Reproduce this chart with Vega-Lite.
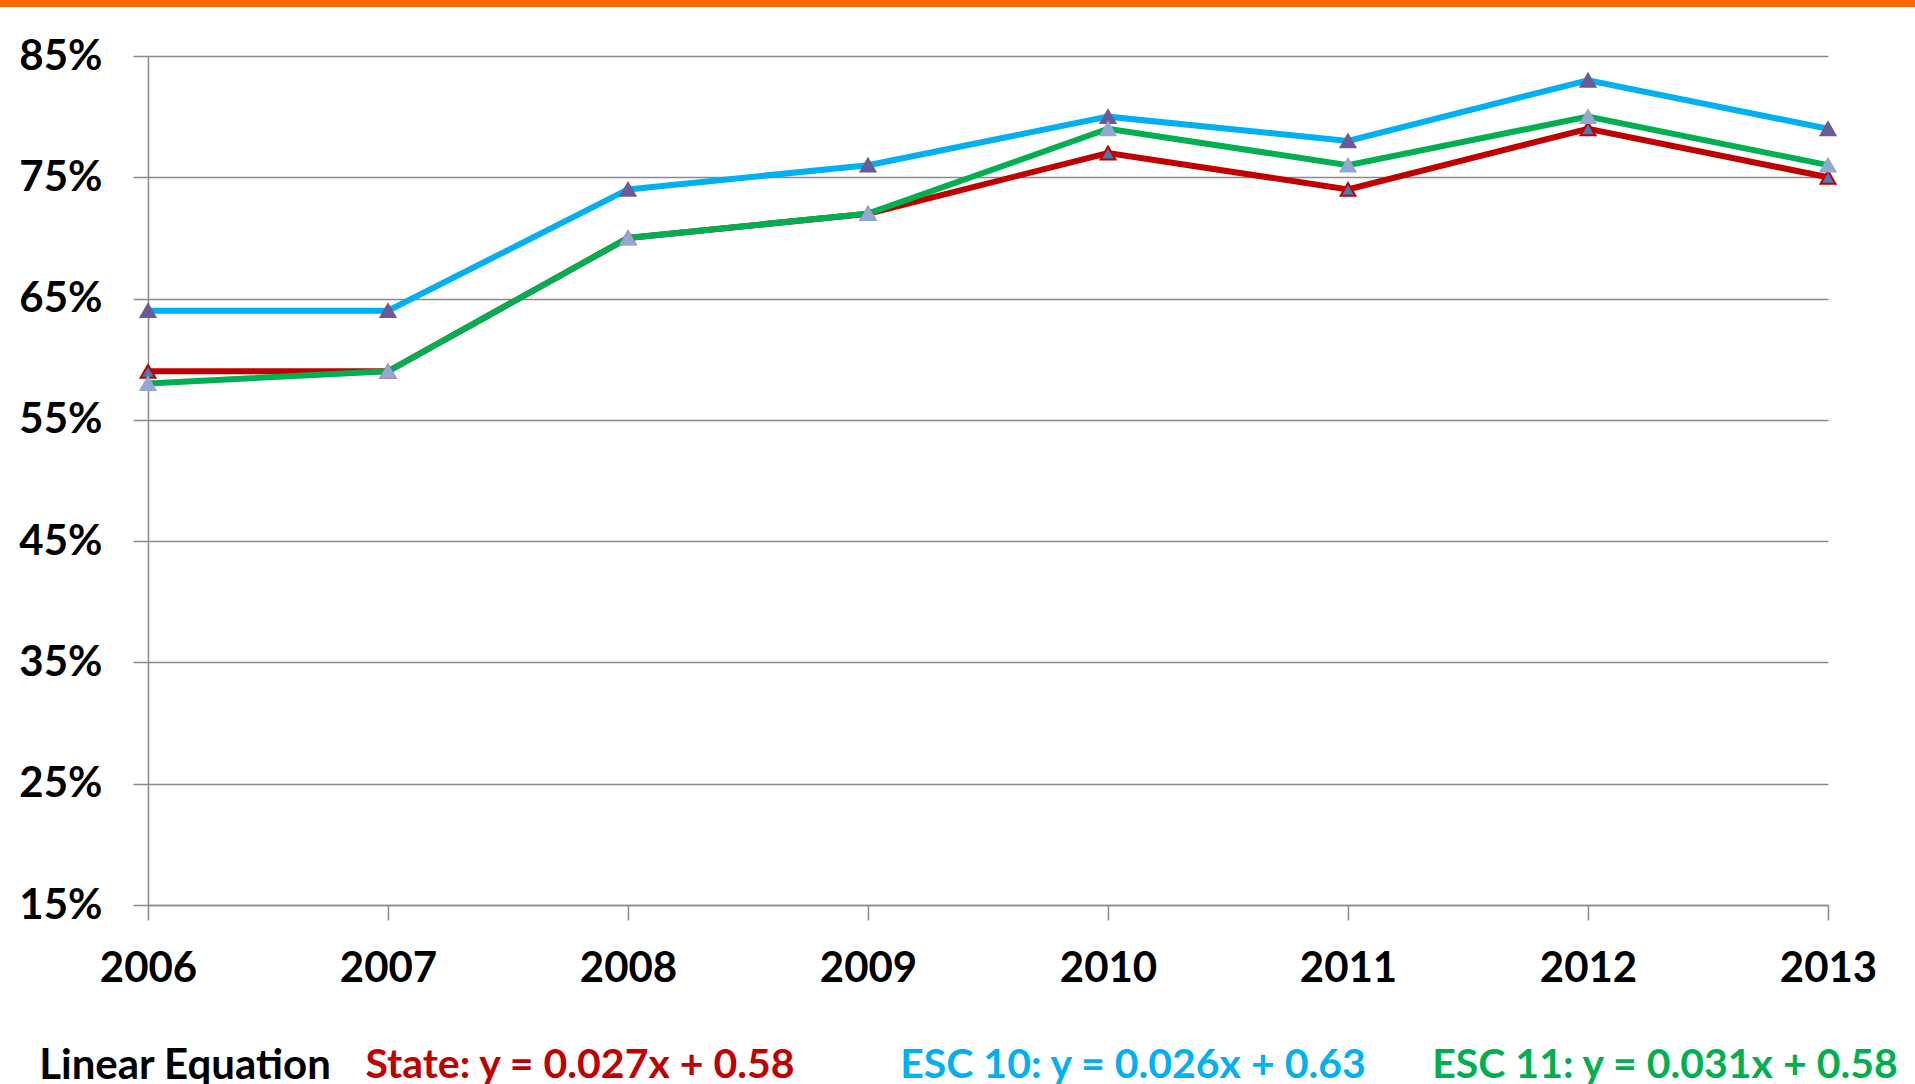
{
  "$schema": "https://vega.github.io/schema/vega-lite/v6.json",
  "padding": 0,
  "background": "#FFFFFF",
  "autosize": {"type": "pad"},
  "config": {"view": {"stroke": null}, "font": "Lato", "concat": {"spacing": 0}},
  "bounds": "flush",
  "spacing": 0,
  "hconcat": [
    {
      "width": 148, "height": 7,
      "view": {"fill": "#FF6600", "stroke": null},
      "data": {"values": []},
      "mark": {"type": "text", "text": ""},
      "encoding": {}
    },
    {
      "bounds": "flush",
      "spacing": 0,
      "vconcat": [
        {
          "width": 1767, "height": 7,
          "view": {"fill": "#FF6600", "stroke": null},
          "data": {"values": []},
          "mark": {"type": "text", "text": ""},
          "encoding": {}
        },
        {
          "width": 1, "height": 49,
          "data": {"values": []},
          "mark": {"type": "text", "text": ""},
          "encoding": {}
        },
        {
          "width": 1680, "height": 849,
          "data": {"values": [
            {"year": 2006, "series": "State", "rate": 0.59},
            {"year": 2007, "series": "State", "rate": 0.59},
            {"year": 2008, "series": "State", "rate": 0.70},
            {"year": 2009, "series": "State", "rate": 0.72},
            {"year": 2010, "series": "State", "rate": 0.77},
            {"year": 2011, "series": "State", "rate": 0.74},
            {"year": 2012, "series": "State", "rate": 0.79},
            {"year": 2013, "series": "State", "rate": 0.75},
            {"year": 2006, "series": "ESC 10", "rate": 0.64},
            {"year": 2007, "series": "ESC 10", "rate": 0.64},
            {"year": 2008, "series": "ESC 10", "rate": 0.74},
            {"year": 2009, "series": "ESC 10", "rate": 0.76},
            {"year": 2010, "series": "ESC 10", "rate": 0.80},
            {"year": 2011, "series": "ESC 10", "rate": 0.78},
            {"year": 2012, "series": "ESC 10", "rate": 0.83},
            {"year": 2013, "series": "ESC 10", "rate": 0.79},
            {"year": 2006, "series": "ESC 11", "rate": 0.58},
            {"year": 2007, "series": "ESC 11", "rate": 0.59},
            {"year": 2008, "series": "ESC 11", "rate": 0.70},
            {"year": 2009, "series": "ESC 11", "rate": 0.72},
            {"year": 2010, "series": "ESC 11", "rate": 0.79},
            {"year": 2011, "series": "ESC 11", "rate": 0.76},
            {"year": 2012, "series": "ESC 11", "rate": 0.80},
            {"year": 2013, "series": "ESC 11", "rate": 0.76}
          ]},
          "encoding": {
            "x": {
              "field": "year", "type": "quantitative",
              "scale": {"domain": [2006, 2013], "nice": false, "zero": false},
              "axis": {
                "title": null, "values": [2006, 2007, 2008, 2009, 2010, 2011, 2012, 2013], "format": "d",
                "grid": false, "domain": true, "domainColor": "#8A8A8A", "domainWidth": 1.5,
                "ticks": true, "tickSize": 15, "tickColor": "#8A8A8A", "tickWidth": 1.5,
                "labelFont": "Lato", "labelFontSize": 42, "labelFontWeight": "bold", "labelColor": "#000000",
                "labelPadding": 28, "labelFlush": false, "labelOverlap": false, "labelBound": false
              }
            },
            "y": {
              "field": "rate", "type": "quantitative",
              "scale": {"domain": [0.15, 0.85], "nice": false, "zero": false},
              "axis": {
                "title": null, "values": [0.15, 0.25, 0.35, 0.45, 0.55, 0.65, 0.75, 0.85], "format": ".0%",
                "grid": true, "gridColor": "#8A8A8A", "gridWidth": 1.5,
                "domain": true, "domainColor": "#8A8A8A", "domainWidth": 1.5,
                "ticks": true, "tickSize": 15, "tickColor": "#8A8A8A", "tickWidth": 1.5,
                "labelFont": "Lato", "labelFontSize": 42, "labelFontWeight": "bold", "labelColor": "#000000",
                "labelPadding": 31, "labelOverlap": false, "labelFlush": false
              }
            }
          },
          "layer": [
            {
              "transform": [{"filter": "datum.series === 'State'"}],
              "mark": {"type": "line", "strokeWidth": 6, "color": "#C00000"}
            },
            {
              "transform": [{"filter": "datum.series === 'ESC 10'"}],
              "mark": {"type": "line", "strokeWidth": 6, "color": "#00B0F0"}
            },
            {
              "transform": [{"filter": "datum.series === 'ESC 11'"}],
              "mark": {"type": "line", "strokeWidth": 6, "color": "#00B050"}
            },
            {
              "mark": {"type": "point", "shape": "triangle-up", "filled": true, "size": 220, "opacity": 1, "strokeOpacity": 1},
              "encoding": {
                "fill": {"field": "series", "type": "nominal", "legend": null,
                  "scale": {"domain": ["State", "ESC 10", "ESC 11"], "range": ["#4A7AB3", "#6B5A96", "#94A7D0"]}},
                "stroke": {"field": "series", "type": "nominal", "legend": null,
                  "scale": {"domain": ["State", "ESC 10", "ESC 11"], "range": ["#C00000", "#6B5A96", "#94A7D0"]}},
                "strokeWidth": {"value": 2}
              }
            }
          ]
        },
        {
          "width": 1, "height": 142,
          "data": {"values": []},
          "mark": {"type": "text", "text": ""},
          "encoding": {}
        },
        {
          "bounds": "flush",
          "spacing": 0,
          "hconcat": [
            {
              "width": 74, "height": 37,
              "data": {"values": [{"label": "Linear Equation"}]},
              "mark": {"type": "text", "font": "Lato", "fontSize": 42, "fontWeight": "bold", "color": "#000000", "align": "center", "baseline": "middle"},
              "encoding": {"text": {"field": "label"}}
            },
            {
              "width": 321, "height": 37,
              "data": {"values": []},
              "mark": {"type": "text", "text": ""},
              "encoding": {}
            },
            {
              "width": 74, "height": 37,
              "data": {"values": [{"label": "State: y = 0.027x + 0.58"}]},
              "mark": {"type": "text", "font": "Lato", "fontSize": 41, "fontWeight": "bold", "color": "#C00000", "align": "center", "baseline": "middle"},
              "encoding": {"text": {"field": "label"}}
            },
            {
              "width": 479, "height": 37,
              "data": {"values": []},
              "mark": {"type": "text", "text": ""},
              "encoding": {}
            },
            {
              "width": 74, "height": 37,
              "data": {"values": [{"label": "ESC 10: y = 0.026x + 0.63"}]},
              "mark": {"type": "text", "font": "Lato", "fontSize": 41, "fontWeight": "bold", "color": "#00B0F0", "align": "center", "baseline": "middle"},
              "encoding": {"text": {"field": "label"}}
            },
            {
              "width": 458, "height": 37,
              "data": {"values": []},
              "mark": {"type": "text", "text": ""},
              "encoding": {}
            },
            {
              "width": 74, "height": 37,
              "data": {"values": [{"label": "ESC 11: y = 0.031x + 0.58"}]},
              "mark": {"type": "text", "font": "Lato", "fontSize": 41, "fontWeight": "bold", "color": "#00B050", "align": "center", "baseline": "middle"},
              "encoding": {"text": {"field": "label"}}
            }
          ]
        }
      ]
    }
  ]
}
